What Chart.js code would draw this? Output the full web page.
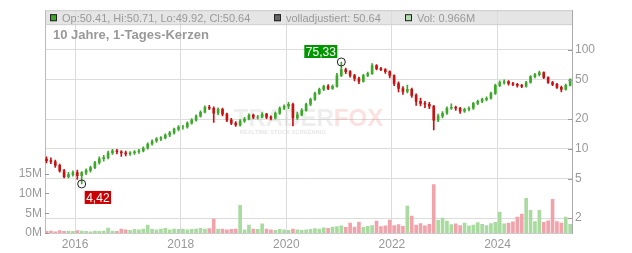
<!DOCTYPE html>
<html>
<head>
<meta charset="utf-8">
<script src="https://cdn.jsdelivr.net/npm/chart.js@4.4.1/dist/chart.umd.min.js"></script>
<style>
  body { margin: 0; background: #fff; }
</style>
</head>
<body>
<canvas id="chart" width="632" height="253"></canvas>
<script>
// Monatskerzen, Juni 2015 bis Mai 2025
const monate = [
  '2015-06','2015-07','2015-08','2015-09','2015-10','2015-11','2015-12',
  '2016-01','2016-02','2016-03','2016-04','2016-05','2016-06','2016-07','2016-08','2016-09','2016-10','2016-11','2016-12',
  '2017-01','2017-02','2017-03','2017-04','2017-05','2017-06','2017-07','2017-08','2017-09','2017-10','2017-11','2017-12',
  '2018-01','2018-02','2018-03','2018-04','2018-05','2018-06','2018-07','2018-08','2018-09','2018-10','2018-11','2018-12',
  '2019-01','2019-02','2019-03','2019-04','2019-05','2019-06','2019-07','2019-08','2019-09','2019-10','2019-11','2019-12',
  '2020-01','2020-02','2020-03','2020-04','2020-05','2020-06','2020-07','2020-08','2020-09','2020-10','2020-11','2020-12',
  '2021-01','2021-02','2021-03','2021-04','2021-05','2021-06','2021-07','2021-08','2021-09','2021-10','2021-11','2021-12',
  '2022-01','2022-02','2022-03','2022-04','2022-05','2022-06','2022-07','2022-08','2022-09','2022-10','2022-11','2022-12',
  '2023-01','2023-02','2023-03','2023-04','2023-05','2023-06','2023-07','2023-08','2023-09','2023-10','2023-11','2023-12',
  '2024-01','2024-02','2024-03','2024-04','2024-05','2024-06','2024-07','2024-08','2024-09','2024-10','2024-11','2024-12',
  '2025-01','2025-02','2025-03','2025-04','2025-05'
];

const eroeffnung = [
  7.9, 7.6, 7.4, 6.8, 6.0, 5.25, 5.5,
  5.75, 5.35, 5.75, 6.05, 6.45, 7.25, 7.95, 8.15, 9.1, 9.55, 9.35, 9.1,
  8.9, 9.1, 9.35, 9.55, 10.2, 11.2, 12.0, 12.6, 12.9, 13.8, 14.5, 15.8,
  16.6, 16.6, 18.2, 19.5, 21.4, 23.4, 26.3, 25.7, 22.9, 25.1, 22.4, 19.5,
  18.2, 17.4, 19.1, 20.0, 21.9, 20.9, 20.9, 22.4, 20.9, 20.4, 22.9, 25.7,
  26.9, 28.2, 20.5, 22.0, 24.5, 28.2, 31.6, 36.3, 39.8, 42.7, 40.7, 42.7,
  55.0, 63.1, 60.3, 55.0, 51.3, 47.9, 55.0, 57.5, 69.2, 64.6, 63.1, 60.3,
  55.0, 45.7, 40.7, 38.0, 39.8, 34.7, 30.2, 28.8, 28.2, 26.9, 19.5, 21.4,
  22.9, 25.7, 26.3, 25.7, 24.0, 25.1, 25.7, 28.8, 30.2, 31.6, 32.4, 36.3,
  43.7, 46.8, 47.9, 45.7, 44.7, 43.7, 42.7, 46.8, 53.7, 56.2, 58.9, 52.5,
  46.8, 44.7, 41.7, 39.8, 43.7
];
const hoch = [
  8.3, 8.1, 7.7, 7.0, 6.2, 5.8, 6.0,
  6.1, 5.9, 6.3, 6.7, 7.5, 8.3, 8.6, 9.5, 9.9, 9.9, 9.6, 9.5,
  9.4, 9.6, 9.9, 10.5, 11.5, 12.3, 13.0, 13.3, 14.2, 15.0, 16.2, 17.2,
  17.3, 18.7, 20.2, 22.0, 24.2, 27.2, 27.5, 26.5, 26.0, 25.8, 23.0, 20.3,
  18.8, 19.8, 20.8, 22.6, 22.5, 21.8, 23.2, 22.8, 21.5, 23.5, 26.5, 27.8,
  29.5, 29.0, 23.5, 25.5, 29.0, 32.5, 37.5, 41.0, 44.0, 44.5, 44.2, 58.0,
  75.33, 65.5, 61.8, 56.5, 53.0, 56.5, 59.5, 72.5, 71.0, 66.5, 64.5, 61.5,
  56.0, 47.5, 42.5, 44.0, 41.0, 36.0, 32.5, 30.2, 29.5, 27.5, 22.5, 23.8,
  26.5, 28.5, 27.0, 26.3, 25.8, 26.5, 29.5, 31.0, 32.5, 33.5, 37.5, 45.0,
  48.5, 49.8, 48.8, 47.0, 46.0, 44.8, 48.0, 55.0, 58.0, 61.0, 60.0, 53.5,
  48.0, 45.8, 43.0, 45.0, 50.71
];
const tief = [
  7.2, 7.1, 6.5, 5.8, 5.1, 5.1, 5.3,
  4.9, 4.42, 5.5, 5.8, 6.3, 7.0, 7.5, 7.9, 8.8, 8.9, 8.4, 8.5,
  8.6, 8.8, 9.0, 9.3, 9.9, 10.9, 11.6, 12.1, 12.6, 13.3, 14.1, 15.2,
  15.8, 16.2, 17.7, 19.0, 20.9, 23.0, 24.8, 18.5, 22.0, 21.5, 18.8, 17.5,
  16.8, 16.9, 18.5, 19.6, 20.2, 20.0, 20.5, 20.2, 19.6, 20.0, 22.3, 24.9,
  25.5, 17.0, 19.8, 21.5, 24.0, 27.3, 30.9, 35.4, 38.6, 39.5, 39.8, 42.0,
  53.5, 57.5, 52.8, 48.5, 45.5, 47.0, 53.5, 56.5, 62.5, 61.5, 57.8, 52.0,
  43.5, 37.5, 35.5, 36.8, 33.0, 27.5, 27.2, 26.0, 25.5, 15.5, 18.8, 20.5,
  22.2, 25.0, 24.5, 22.8, 23.3, 24.2, 25.0, 28.0, 29.3, 30.5, 31.8, 35.5,
  42.5, 45.0, 44.0, 43.5, 42.0, 41.5, 42.0, 46.0, 52.0, 54.5, 51.0, 45.8,
  43.5, 40.8, 37.5, 39.2, 43.2
];
const schluss = [
  7.6, 7.4, 6.8, 6.0, 5.25, 5.5, 5.75,
  5.35, 5.75, 6.05, 6.45, 7.25, 7.95, 8.15, 9.1, 9.55, 9.35, 9.1, 8.9,
  9.1, 9.35, 9.55, 10.2, 11.2, 12.0, 12.6, 12.9, 13.8, 14.5, 15.8, 16.6,
  16.6, 18.2, 19.5, 21.4, 23.4, 26.3, 25.7, 22.9, 25.1, 22.4, 19.5, 18.2,
  17.4, 19.1, 20.0, 21.9, 20.9, 20.9, 22.4, 20.9, 20.4, 22.9, 25.7, 26.9,
  28.2, 20.5, 22.0, 24.5, 28.2, 31.6, 36.3, 39.8, 42.7, 40.7, 42.7, 55.0,
  63.1, 60.3, 55.0, 51.3, 47.9, 55.0, 57.5, 69.2, 64.6, 63.1, 60.3, 55.0,
  45.7, 40.7, 38.0, 39.8, 34.7, 30.2, 28.8, 28.2, 26.9, 19.5, 21.4, 22.9,
  25.7, 26.3, 25.7, 24.0, 25.1, 25.7, 28.8, 30.2, 31.6, 32.4, 36.3, 43.7,
  46.8, 47.9, 45.7, 44.7, 43.7, 42.7, 46.8, 53.7, 56.2, 58.9, 52.5, 46.8,
  44.7, 41.7, 39.8, 43.7, 50.64
];
// Volumen in Mio. Stueck
const volumen = [
  0.4, 0.5, 0.3, 0.6, 0.4, 0.5, 0.4,
  0.6, 0.5, 0.4, 0.3, 0.5, 0.4, 0.5, 1.25, 0.5, 0.4, 1.0, 0.8,
  0.7, 0.9, 0.8, 1.0, 2.0, 0.9, 0.8, 1.0, 1.2, 0.8, 1.0, 0.9,
  1.0, 0.8, 0.9, 1.0, 1.2, 1.0, 1.1, 3.5, 1.0, 1.0, 0.8, 0.9,
  1.0, 7.0, 0.8, 2.0, 1.0, 0.9, 2.3, 1.0, 0.8, 0.7, 0.9, 0.8,
  0.7, 1.0, 0.8, 0.7, 0.8, 0.9, 1.1, 1.0, 1.3, 1.2, 1.5, 1.6,
  1.8, 1.4, 2.5, 1.5, 2.75, 1.4, 1.7, 1.9, 3.0, 1.6, 1.8, 3.25,
  1.9, 2.1, 1.7, 6.8, 4.25, 2.0, 2.4, 1.8, 2.2, 12.2, 3.2, 3.75,
  3.0, 2.1, 2.3, 1.9, 2.5, 1.8, 2.0, 2.6, 2.2, 1.9, 2.4, 2.7,
  5.3, 2.3, 2.5, 2.8, 4.0, 4.75, 8.75, 5.75, 2.9, 5.75, 2.7, 3.1,
  8.5, 2.9, 2.5, 4.0, 2.2
];

const jahrTicks = [2016, 2018, 2020, 2022, 2024];
const kursTicks = [2, 5, 10, 20, 50, 100];
const volTicks = [0, 5, 10, 15];

const GRUEN = '#3ea82c';
const ROT = '#c81212';
const VOL_GRUEN = '#a9dba1';
const VOL_ROT = '#f1a3ab';
const GRAU = '#999';
const SCHRIFT = '"Liberation Sans", Arial, sans-serif';

function monatZuJahr(m) {
    const [j, mo] = m.split('-').map(Number);
    return j + (mo - 1) / 12 + 1 / 24;
}

const xs = monate.map(monatZuJahr);
const steigend = schluss.map((c, i) => c >= eroeffnung[i]);

const kerzen = xs.map((x, i) => ({ x, y: [eroeffnung[i], schluss[i]] }));
const dochte = xs.map((x, i) => ({ x, y: [tief[i], hoch[i]] }));
const umsatz = xs.map((x, i) => ({ x, y: volumen[i] }));
const farben = steigend.map(s => s ? GRUEN : ROT);

function deZahl(v) {
    return v.toFixed(2).replace('.', ',');
}

// Kopfzeile, Wasserzeichen, Extremwerte, Tick-Striche
const deko = {
    id: 'deko',
    beforeDraw(chart) {
        const { ctx, chartArea: a } = chart;
        ctx.save();
        ctx.fillStyle = '#fff';
        ctx.fillRect(0, 0, chart.width, chart.height);
        ctx.fillStyle = '#e5e5e5';
        ctx.fillRect(a.left, a.top, a.right - a.left, 14);
        ctx.restore();
    },
    beforeDatasetsDraw(chart) {
        const { ctx, chartArea: a } = chart;
        const cx = (a.left + a.right) / 2;
        const cy = (a.top + a.bottom) / 2;
        ctx.save();
        ctx.font = 'bold 24px ' + SCHRIFT;
        ctx.textBaseline = 'alphabetic';
        const w1 = ctx.measureText('TRADER').width;
        const w2 = ctx.measureText('FOX').width;
        const x0 = cx - (w1 + w2) / 2;
        ctx.fillStyle = 'rgba(200,200,200,0.3)';
        ctx.fillText('TRADER', x0, cy + 4.5);
        ctx.fillStyle = 'rgba(240,120,120,0.22)';
        ctx.fillText('FOX', x0 + w1, cy + 4.5);
        ctx.font = 'bold 6px ' + SCHRIFT;
        ctx.fillStyle = 'rgba(200,200,200,0.45)';
        ctx.fillText('REALTIME STOCK SCREENING', x0 + 6, cy + 12, 86);
        ctx.restore();
    },
    afterDraw(chart) {
        const { ctx, chartArea: a, scales } = chart;
        ctx.save();

        // Rahmen
        ctx.strokeStyle = '#ccc';
        ctx.lineWidth = 1;
        ctx.beginPath();
        ctx.moveTo(a.left, a.top + 0.5);
        ctx.lineTo(a.right, a.top + 0.5);
        ctx.moveTo(a.left, a.top + 14.5);
        ctx.lineTo(a.right, a.top + 14.5);
        ctx.stroke();

        // Tick-Striche nach innen
        ctx.strokeStyle = GRAU;
        ctx.beginPath();
        kursTicks.forEach(v => {
            const y = Math.round(scales.yp.getPixelForValue(v)) + 0.5;
            ctx.moveTo(a.right - 4, y);
            ctx.lineTo(a.right, y);
        });
        volTicks.forEach(v => {
            const y = Math.round(scales.yv.getPixelForValue(v)) + 0.5;
            ctx.moveTo(a.left, y);
            ctx.lineTo(a.left + 4, y);
        });
        ctx.stroke();

        // Kopfzeile
        ctx.font = '11px ' + SCHRIFT;
        ctx.textBaseline = 'alphabetic';
        const kopf = [
            { farbe: GRUEN, text: 'Op:50.41, Hi:50.71, Lo:49.92, Cl:50.64', x: a.left + 5 },
            { farbe: '#666', text: 'volladjustiert: 50.64', x: a.left + 229 },
            { farbe: '#b2deb0', text: 'Vol: 0.966M', x: a.left + 360 }
        ];
        kopf.forEach(k => {
            ctx.fillStyle = k.farbe;
            ctx.fillRect(k.x, a.top + 4, 7, 7);
            ctx.strokeStyle = '#222';
            ctx.strokeRect(k.x + 0.5, a.top + 4.5, 6, 6);
            ctx.fillStyle = GRAU;
            ctx.fillText(k.text, k.x + 12, a.top + 11.5);
        });

        ctx.font = 'bold 13px ' + SCHRIFT;
        ctx.fillStyle = GRAU;
        ctx.fillText('10 Jahre, 1-Tages-Kerzen', a.left + 8, a.top + 29);

        // Hoch- und Tiefpunkt
        const iMax = hoch.indexOf(Math.max(...hoch));
        const iMin = tief.indexOf(Math.min(...tief));
        const punkte = [
            { i: iMax, wert: hoch[iMax], farbe: '#009600', oben: true },
            { i: iMin, wert: tief[iMin], farbe: '#cc0000', oben: false }
        ];
        ctx.font = '12px ' + SCHRIFT;
        punkte.forEach(p => {
            const px = scales.x.getPixelForValue(xs[p.i]);
            const py = scales.yp.getPixelForValue(p.wert);
            ctx.strokeStyle = '#222';
            ctx.lineWidth = 1;
            ctx.beginPath();
            ctx.arc(px, py, 4, 0, Math.PI * 2);
            ctx.stroke();
            const txt = deZahl(p.wert);
            const bw = ctx.measureText(txt).width + 3;
            const bx = p.oben ? px - 4 - bw : px + 3;
            const by = p.oben ? py - 17 : py + 7;
            ctx.fillStyle = p.farbe;
            ctx.fillRect(bx, by, bw, 13);
            ctx.fillStyle = '#fff';
            ctx.fillText(txt, bx + 1.5, by + 11);
        });
        ctx.restore();
    }
};

new Chart(document.getElementById('chart'), {
    type: 'bar',
    data: {
        datasets: [
            {
                data: kerzen,
                xAxisID: 'x',
                yAxisID: 'yp',
                backgroundColor: farben,
                barThickness: 2,
                grouped: false,
                order: 1
            },
            {
                data: dochte,
                xAxisID: 'x',
                yAxisID: 'yp',
                backgroundColor: farben,
                barThickness: 1,
                grouped: false,
                order: 2
            },
            {
                data: umsatz,
                xAxisID: 'x',
                yAxisID: 'yv',
                backgroundColor: steigend.map(s => s ? VOL_GRUEN : VOL_ROT),
                barThickness: 3,
                grouped: false,
                order: 3
            }
        ]
    },
    options: {
        responsive: false,
        animation: false,
        devicePixelRatio: 1,
        layout: { padding: { top: 8, left: 0, right: 0, bottom: 0 } },
        plugins: { legend: { display: false }, tooltip: { enabled: false } },
        scales: {
            x: {
                type: 'linear',
                position: 'bottom',
                min: 2015.43,
                max: 2025.41,
                offset: false,
                afterBuildTicks: s => { s.ticks = jahrTicks.map(v => ({ value: v })); },
                afterFit: s => { s.height = 20; },
                grid: { color: '#dcdcdc', drawTicks: false, offset: false },
                border: { color: '#ccc' },
                ticks: {
                    color: GRAU,
                    font: { size: 12, family: SCHRIFT },
                    padding: 4,
                    autoSkip: false,
                    maxRotation: 0,
                    callback: v => String(v)
                }
            },
            yp: {
                type: 'logarithmic',
                position: 'right',
                min: 1.413,
                max: 251.2,
                afterBuildTicks: s => { s.ticks = kursTicks.map(v => ({ value: v })); },
                afterFit: s => { s.width = 60; },
                grid: { color: '#dcdcdc', drawTicks: false },
                border: { color: '#aaa' },
                ticks: {
                    color: GRAU,
                    font: { size: 12, family: SCHRIFT },
                    padding: 3,
                    callback: v => String(v)
                }
            },
            yv: {
                type: 'linear',
                position: 'left',
                min: 0,
                max: 56.25,
                afterBuildTicks: s => { s.ticks = volTicks.map(v => ({ value: v })); },
                afterFit: s => { s.width = 45; },
                grid: { display: false, drawTicks: false },
                border: { color: '#bbb' },
                ticks: {
                    color: GRAU,
                    font: { size: 12, family: SCHRIFT },
                    padding: 3,
                    callback: v => v + 'M'
                }
            }
        }
    },
    plugins: [deko]
});
</script>
</body>
</html>
